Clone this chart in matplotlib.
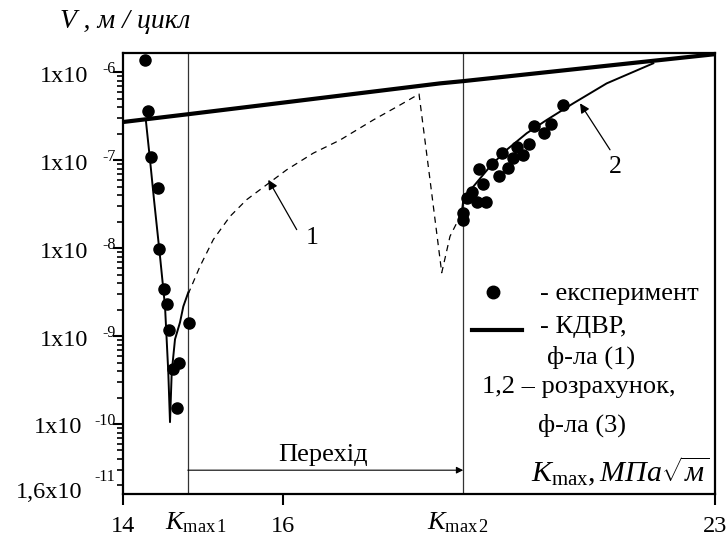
import numpy as np
import matplotlib
matplotlib.use("Agg")
import matplotlib.pyplot as plt
from matplotlib.lines import Line2D
import matplotlib.transforms as mtransforms

plt.rcParams['font.family'] = ['Liberation Serif', 'DejaVu Serif']
plt.rcParams['mathtext.fontset'] = 'custom'
plt.rcParams['mathtext.rm'] = 'Liberation Serif'
plt.rcParams['mathtext.it'] = 'Liberation Serif:italic'

# experimental points
exp_k = [14.275, 14.309, 14.346, 14.4375, 14.454, 14.5125, 14.55, 14.579, 14.829, 14.629, 14.70, 14.671,
         18.912, 18.922, 18.986, 19.058, 19.136, 19.290, 19.246, 19.168, 19.392, 19.505, 19.544, 19.651,
         19.722, 19.797, 19.894, 19.982, 20.067, 20.229, 20.343, 20.532]
exp_v = [1.39e-6, 3.64e-7, 1.08e-7, 4.81e-8, 9.8e-9, 3.39e-9, 2.29e-9, 1.16e-9, 1.39e-9, 4.2e-10, 5.0e-10, 1.52e-10,
         2.52e-8, 2.10e-8, 3.71e-8, 4.37e-8, 3.30e-8, 3.30e-8, 5.38e-8, 7.85e-8, 9.08e-8, 6.64e-8, 1.20e-7, 8.11e-8,
         1.07e-7, 1.40e-7, 1.15e-7, 1.52e-7, 2.44e-7, 2.05e-7, 2.58e-7, 4.23e-7]

# КДВР, formula (1)
kdvr_k = [14.0, 14.81, 16.0, 18.544, 18.92, 21.14, 23.0]
kdvr_v = [2.71e-7, 3.32e-7, 4.5e-7, 7.45e-7, 7.9e-7, 1.16e-6, 1.6e-6]

# calculation 2 (solid), left branch
calc2a_k = [14.2875, 14.3375, 14.3875, 14.4625, 14.525, 14.566, 14.5875, 14.609, 14.65, 14.7125, 14.754, 14.816]
calc2a_v = [2.73e-7, 1.01e-7, 3.55e-8, 8.07e-9, 2.19e-9, 3.88e-10, 1.05e-10, 3.88e-10, 9.18e-10, 1.43e-9, 2.17e-9, 3.13e-9]

# calculation 2 (solid), right branch
calc2b_k = [18.896, 18.922, 19.084, 19.354, 19.625, 19.949, 20.273, 20.704, 21.245, 22.0]
calc2b_v = [2.5e-8, 3.55e-8, 5.0e-8, 8.45e-8, 1.31e-7, 2.02e-7, 2.86e-7, 4.42e-7, 7.45e-7, 1.26e-6]

# calculation 1 (dashed), transition zone
calc1_k = [14.8125, 14.9625, 15.129, 15.3375, 15.546, 15.796, 16.06, 16.491, 16.924, 17.463, 17.896, 18.204,
           18.382, 18.572, 18.706, 18.896]
calc1_v = [2.97e-9, 6.2e-9, 1.25e-8, 2.29e-8, 3.55e-8, 5.25e-8, 7.76e-8, 1.2e-7, 1.69e-7, 2.86e-7, 4.23e-7, 5.64e-7,
           5.97e-8, 5.24e-9, 1.36e-8, 2.5e-8]

k_max1 = 14.81
k_max2 = 18.92

x_ticks = [14, 16, 23]
y_ticks = [1e-6, 1e-7, 1e-8, 1e-9, 1e-10]
y_exps = ['-6', '-7', '-8', '-9', '-10']


def fwd(x):
    x = np.asarray(x, dtype=float)
    return np.where(x <= 16, (x - 14) * 80.0, 160.0 + (x - 16) * 61.71)


def inv(y):
    y = np.asarray(y, dtype=float)
    return np.where(y <= 160, 14 + y / 80.0, 16 + (y - 160) / 61.71)


fig = plt.figure(figsize=(7.28, 5.42), dpi=100)
ax = fig.add_axes([123 / 728, 48 / 542, 592 / 728, 441 / 542])
ax.set_xscale('function', functions=(fwd, inv))
ax.set_yscale('log')
ax.set_xlim(14, 23)
ax.set_ylim(1.6e-11, 1.65e-6)

ax.axvline(k_max1, color='#333333', lw=0.9, zorder=1)
ax.axvline(k_max2, color='#333333', lw=0.9, zorder=1)

ax.plot(kdvr_k, kdvr_v, color='black', lw=3.0, solid_capstyle='butt', zorder=3)
ax.plot(calc2a_k, calc2a_v, color='black', lw=1.4, zorder=3)
ax.plot(calc2b_k, calc2b_v, color='black', lw=1.4, zorder=3)
ax.plot(calc1_k, calc1_v, color='black', lw=0.9, ls=(0, (5, 4)), zorder=3)
ax.plot(exp_k, exp_v, 'o', color='black', ms=8, zorder=4)

for s in ax.spines.values():
    s.set_linewidth(1.6)

ax.set_xticks(x_ticks)
ax.set_xticklabels(['14', '16', '23'], fontsize=17.5)
ax.tick_params(axis='x', which='major', direction='out', length=8, width=1.5, pad=8)
ax.tick_params(axis='x', which='minor', length=0)
ax.set_yticks(y_ticks)
ax.set_yticklabels([])
ax.tick_params(axis='y', which='major', direction='out', length=7, width=1.5)
ax.tick_params(axis='y', which='minor', direction='out', length=4.5, width=1.2)

# y tick labels "1x10" with exponent
ytr = mtransforms.blended_transform_factory(ax.transAxes, ax.transData)
for v, e in zip(y_ticks, y_exps):
    off = -35 if len(e) == 2 else -41
    ax.annotate('1x10', xy=(0, v), xycoords=ytr, xytext=(off, -4), textcoords='offset pixels',
                ha='right', va='center', fontsize=17.5)
    ax.annotate(e, xy=(0, v), xycoords=ytr, xytext=(-7, 3), textcoords='offset pixels',
                ha='right', va='center', fontsize=11.5)
ax.annotate('1,6x10', xy=(0, 1.6e-11), xycoords=ytr, xytext=(-41, 1), textcoords='offset pixels',
            ha='right', va='center', fontsize=17.5)
ax.annotate('-11', xy=(0, 1.6e-11), xycoords=ytr, xytext=(-8, 17), textcoords='offset pixels',
            ha='right', va='center', fontsize=11.5)

# K_max labels under the axis
xtr = mtransforms.blended_transform_factory(ax.transData, ax.transAxes)
ax.annotate(r'$K_{\mathrm{max\,1}}$', xy=(k_max1, 0), xycoords=xtr, xytext=(8, -16), textcoords='offset pixels',
            ha='center', va='top', fontsize=19)
ax.annotate(r'$K_{\mathrm{max\,2}}$', xy=(k_max2, 0), xycoords=xtr, xytext=(-5, -16), textcoords='offset pixels',
            ha='center', va='top', fontsize=19)

# transition arrow
ax.annotate('', xy=(k_max2, 0.054), xycoords=xtr, xytext=(k_max1, 0.054), textcoords=xtr,
            arrowprops=dict(arrowstyle='-|>', color='black', lw=0.8, mutation_scale=10, shrinkA=0, shrinkB=0))
ax.text(0.338, 0.088, 'Перехід', transform=ax.transAxes, ha='center', va='center', fontsize=19)

# curve labels
ax.annotate('', xy=(15.816, 5.97e-8), xytext=(16.222, 1.62e-8),
            arrowprops=dict(arrowstyle='-|>', color='black', lw=0.9, mutation_scale=14, shrinkA=0, shrinkB=0))
ax.text(16.465, 1.31e-8, '1', ha='center', va='center', fontsize=18.5)
ax.annotate('', xy=(20.813, 4.42e-7), xytext=(21.299, 1.31e-7),
            arrowprops=dict(arrowstyle='-|>', color='black', lw=0.9, mutation_scale=14, shrinkA=0, shrinkB=0))
ax.text(21.38, 8.45e-8, '2', ha='center', va='center', fontsize=18.5)

# legend
ax.add_line(Line2D([0.625], [0.458], marker='o', color='black', ms=9, transform=ax.transAxes))
ax.add_line(Line2D([0.5895, 0.674], [0.372, 0.372], color='black', lw=3.0, transform=ax.transAxes))
ax.text(0.704, 0.4535, '- експеримент', transform=ax.transAxes, ha='left', va='center', fontsize=19)
ax.text(0.704, 0.379, '- КДВР,', transform=ax.transAxes, ha='left', va='center', fontsize=19)
ax.text(0.716, 0.311, 'ф-ла (1)', transform=ax.transAxes, ha='left', va='center', fontsize=19)
ax.text(0.606, 0.243, '1,2 – розрахунок,', transform=ax.transAxes, ha='left', va='center', fontsize=19)
ax.text(0.701, 0.156, 'ф-ла (3)', transform=ax.transAxes, ha='left', va='center', fontsize=19)

# axis titles
ax.text(0.99, 0.05, r'$K_{\mathrm{max}}, МПа\sqrt{м}$', transform=ax.transAxes, ha='right', va='center',
        fontsize=21.5)
fig.text(60 / 728, 1 - 21 / 542, 'V , м / цикл', ha='left', va='center', fontsize=20, fontstyle='italic')

fig.savefig('out.png', dpi=100)
